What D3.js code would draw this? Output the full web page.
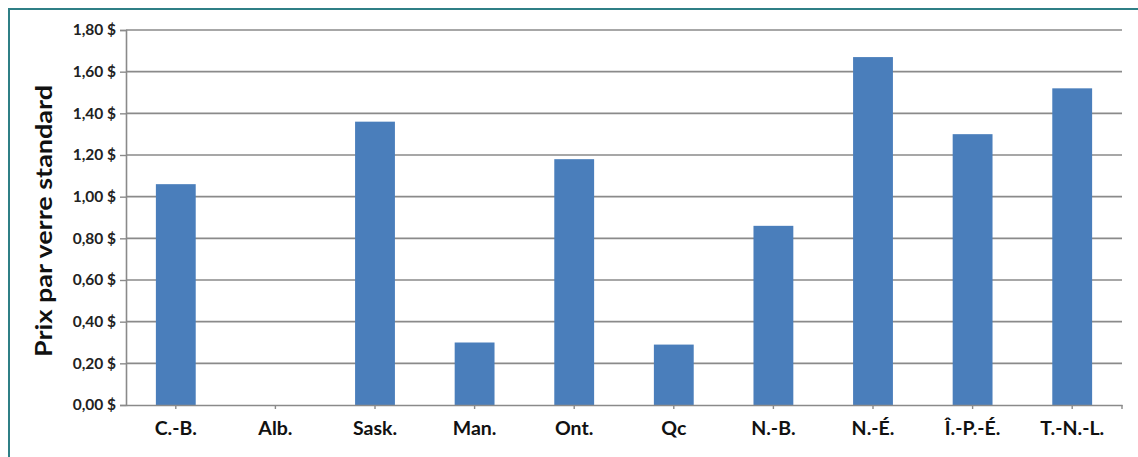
<!DOCTYPE html>
<html><head><meta charset="utf-8">
<script src="https://cdn.jsdelivr.net/npm/d3@7"></script>
<style>body{margin:0;background:#fff;}svg{display:block;}</style>
</head><body>
<script>
const categories = ["C.-B.","Alb.","Sask.","Man.","Ont.","Qc","N.-B.","N.-É.","Î.-P.-É.","T.-N.-L."];
const prices = [1.06, 0, 1.36, 0.30, 1.18, 0.29, 0.86, 1.67, 1.30, 1.52];
const yTicks = [0,0.2,0.4,0.6,0.8,1.0,1.2,1.4,1.6,1.8];
const yTitle = "Prix par verre standard";

(function(){
const W=1138,H=457;
const FONT="Lato, 'Open Sans', sans-serif";
const svg=d3.select("body").append("svg").attr("width",W).attr("height",H);
svg.append("rect").attr("x",0).attr("y",0).attr("width",W).attr("height",H).attr("fill","#fff");
svg.append("rect").attr("x",9).attr("y",9).attr("width",W+20).attr("height",H+20)
  .attr("fill","none").attr("stroke","#2f7f86").attr("stroke-width",2);

const mLeft=126,mRight=1122,mTop=30,mBottom=405;
const x=d3.scaleBand().domain(categories).range([mLeft,mRight]).paddingInner(0.6).paddingOuter(0.3);
const y=d3.scaleLinear().domain([0,1.8]).range([mBottom,mTop]);
const fmt=v=>d3.format(".2f")(v).replace(".",",")+" $";

svg.append("g").selectAll("line").data(yTicks.filter(d=>d>0)).join("line")
  .attr("x1",mLeft).attr("x2",mRight).attr("y1",d=>y(d)).attr("y2",d=>y(d))
  .attr("stroke","#8a8a8a").attr("stroke-width",1.6);

svg.append("g").selectAll("rect").data(prices).join("rect")
  .attr("x",(d,i)=>x(categories[i])).attr("width",x.bandwidth())
  .attr("y",d=>y(d)).attr("height",d=>mBottom-y(d)).attr("fill","#4a7ebb");

const ya=svg.append("g").attr("transform",`translate(${mLeft},0)`)
  .call(d3.axisLeft(y).tickValues(yTicks).tickFormat(fmt).tickSize(6).tickPadding(4));
ya.select(".domain").attr("stroke","#8a8a8a").attr("stroke-width",1.6);
ya.selectAll(".tick line").attr("stroke","#8a8a8a").attr("stroke-width",1.4);
ya.selectAll("text").attr("font-family",FONT).attr("font-weight","bold")
  .attr("font-size",15.5).attr("fill","#222");

const xa=svg.append("g").attr("transform",`translate(0,${mBottom})`)
  .call(d3.axisBottom(x).tickSize(4).tickPadding(12).tickSizeOuter(0));
xa.select(".domain").attr("stroke","#8a8a8a").attr("stroke-width",1.6);
xa.selectAll(".tick line").attr("stroke","#8a8a8a").attr("stroke-width",1.4);
xa.selectAll("text").attr("font-family",FONT).attr("font-weight","bold")
  .attr("font-size",19.5).attr("fill","#111");
svg.append("line").attr("x1",mRight).attr("x2",mRight).attr("y1",mBottom).attr("y2",mBottom+4)
  .attr("stroke","#8a8a8a").attr("stroke-width",1.4);

svg.append("text").attr("transform",`translate(52,221) rotate(-90)`).attr("text-anchor","middle")
  .attr("font-family",FONT).attr("font-weight","bold").attr("font-size",23)
  .attr("textLength",272).attr("lengthAdjust","spacingAndGlyphs")
  .attr("fill","#111").text(yTitle);
})();
</script>
</body></html>
